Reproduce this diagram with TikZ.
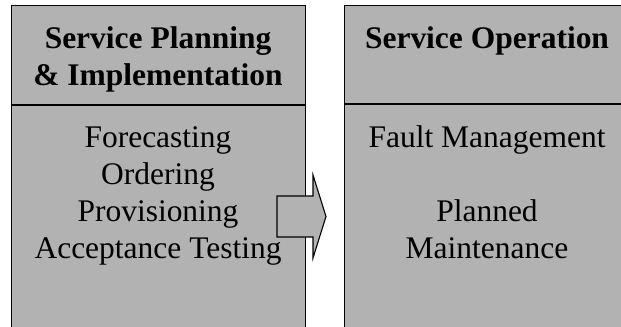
\documentclass[tikz,border=0pt]{standalone}
\usepackage{fontspec}
\setmainfont{Liberation Serif}
\definecolor{boxgray}{RGB}{178,178,178}
\begin{document}
\begin{tikzpicture}[x=1bp,y=-1bp,
  panel/.style={draw=black, line width=1.1bp, fill=boxgray},
  divider/.style={draw=black, line width=1.1bp},
  head/.style={font=\fontsize{31.6}{37}\selectfont\bfseries, align=center, anchor=base, inner sep=0pt},
  body/.style={font=\fontsize{31.6}{37}\selectfont, align=center, anchor=base, inner sep=0pt}]
\useasboundingbox (0,0) rectangle (621,326);
\fill[white] (0,0) rectangle (621,326);
\begin{scope}
\clip (0,0) rectangle (621,326);
\node[panel, anchor=north west, minimum width=294bp, minimum height=330bp] (lbox) at (11,5) {};
\node[panel, anchor=north west, minimum width=286bp, minimum height=330bp] (rbox) at (344,5) {};
\coordinate (ldivl) at (11,105);
\coordinate (ldivr) at (305,105);
\coordinate (rdivl) at (344,104);
\coordinate (rdivr) at (630,104);
\draw[divider] (ldivl) -- (ldivr);
\draw[divider] (rdivl) -- (rdivr);
\draw[panel, line join=miter] (277,196) -- (313,196) -- (313,175) -- (326,216.5) -- (313,258) -- (313,237) -- (277,237) -- cycle;
\end{scope}
\node[head] (lhead) at (158,85) {Service Planning\\\& Implementation};
\node[body] (lbody) at (158,258) {Forecasting\\Ordering\\Provisioning\\Acceptance Testing};
\node[head] (rhead) at (487,48) {Service Operation};
\node[body] (rbody) at (487,258) {Fault Management\\[37bp]Planned\\Maintenance};
\end{tikzpicture}
\end{document}
